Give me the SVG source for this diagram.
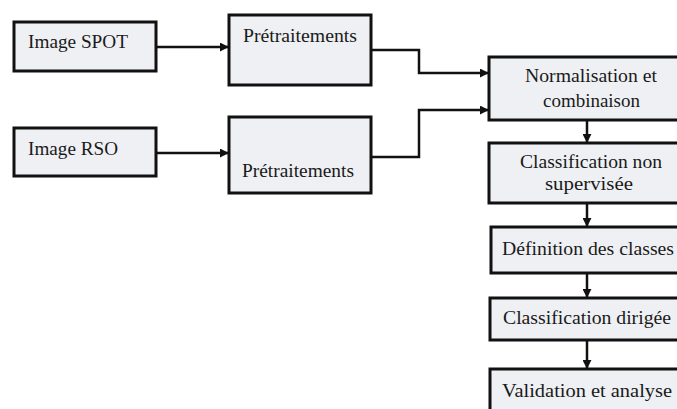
<svg xmlns="http://www.w3.org/2000/svg" width="677" height="409" viewBox="0 0 677 409">
<style>
.box{fill:#eef0f4;stroke:#111;stroke-width:3}
.t{font-family:"Liberation Serif","Times New Roman",serif;font-size:19px;fill:#1a1a1a}
.c{fill:none;stroke:#111;stroke-width:2.5}
</style>
<defs>
<marker id="ah" viewBox="0 0 10 10" refX="9" refY="5" markerWidth="3.6" markerHeight="3.6" orient="auto" markerUnits="strokeWidth">
<path d="M0,0 L10,5 L0,10 z" fill="#111"/>
</marker>
</defs>
<rect width="677" height="409" fill="#ffffff"/>
<g id="connectors">
<path class="c" d="M157,47 L228,47" marker-end="url(#ah)"/>
<path class="c" d="M157,153 L228,153" marker-end="url(#ah)"/>
<path class="c" d="M371,50 L419,50 L419,73 L488,73" marker-end="url(#ah)"/>
<path class="c" d="M371,157 L419,157 L419,110 L488,110" marker-end="url(#ah)"/>
<path class="c" d="M587,121 L587,142" marker-end="url(#ah)"/>
<path class="c" d="M587,204 L587,226" marker-end="url(#ah)"/>
<path class="c" d="M587,274 L587,297" marker-end="url(#ah)"/>
<path class="c" d="M587,341 L587,368" marker-end="url(#ah)"/>
</g>
<g id="image-spot">
<rect class="box" x="14" y="22" width="142" height="49"/>
<text class="t" x="28" y="48" textLength="100" lengthAdjust="spacingAndGlyphs">Image SPOT</text>
</g>
<g id="pretraitements-1">
<rect class="box" x="229" y="15" width="142" height="70"/>
<text class="t" x="243" y="42" textLength="114" lengthAdjust="spacingAndGlyphs">Prétraitements</text>
</g>
<g id="image-rso">
<rect class="box" x="14" y="128" width="142" height="48"/>
<text class="t" x="28" y="155" textLength="90" lengthAdjust="spacingAndGlyphs">Image RSO</text>
</g>
<g id="pretraitements-2">
<rect class="box" x="229" y="117" width="142" height="76"/>
<text class="t" x="242" y="177" textLength="112" lengthAdjust="spacingAndGlyphs">Prétraitements</text>
</g>
<g id="normalisation">
<rect class="box" x="489" y="57" width="195" height="63"/>
<text class="t" x="525" y="82" textLength="132" lengthAdjust="spacingAndGlyphs">Normalisation et</text>
<text class="t" x="543" y="107" textLength="97" lengthAdjust="spacingAndGlyphs">combinaison</text>
</g>
<g id="classification-non-supervisee">
<rect class="box" x="489" y="143" width="195" height="60"/>
<text class="t" x="520" y="168" textLength="142" lengthAdjust="spacingAndGlyphs">Classification non</text>
<text class="t" x="545" y="190" textLength="88" lengthAdjust="spacingAndGlyphs">supervisée</text>
</g>
<g id="definition-classes">
<rect class="box" x="491" y="227" width="195" height="46"/>
<text class="t" x="502" y="255" textLength="172" lengthAdjust="spacingAndGlyphs">Définition des classes</text>
</g>
<g id="classification-dirigee">
<rect class="box" x="490" y="298" width="195" height="42"/>
<text class="t" x="503" y="324" textLength="168" lengthAdjust="spacingAndGlyphs">Classification dirigée</text>
</g>
<g id="validation">
<rect class="box" x="490" y="369" width="195" height="50"/>
<text class="t" x="502" y="397" textLength="170" lengthAdjust="spacingAndGlyphs">Validation et analyse</text>
</g>
</svg>
